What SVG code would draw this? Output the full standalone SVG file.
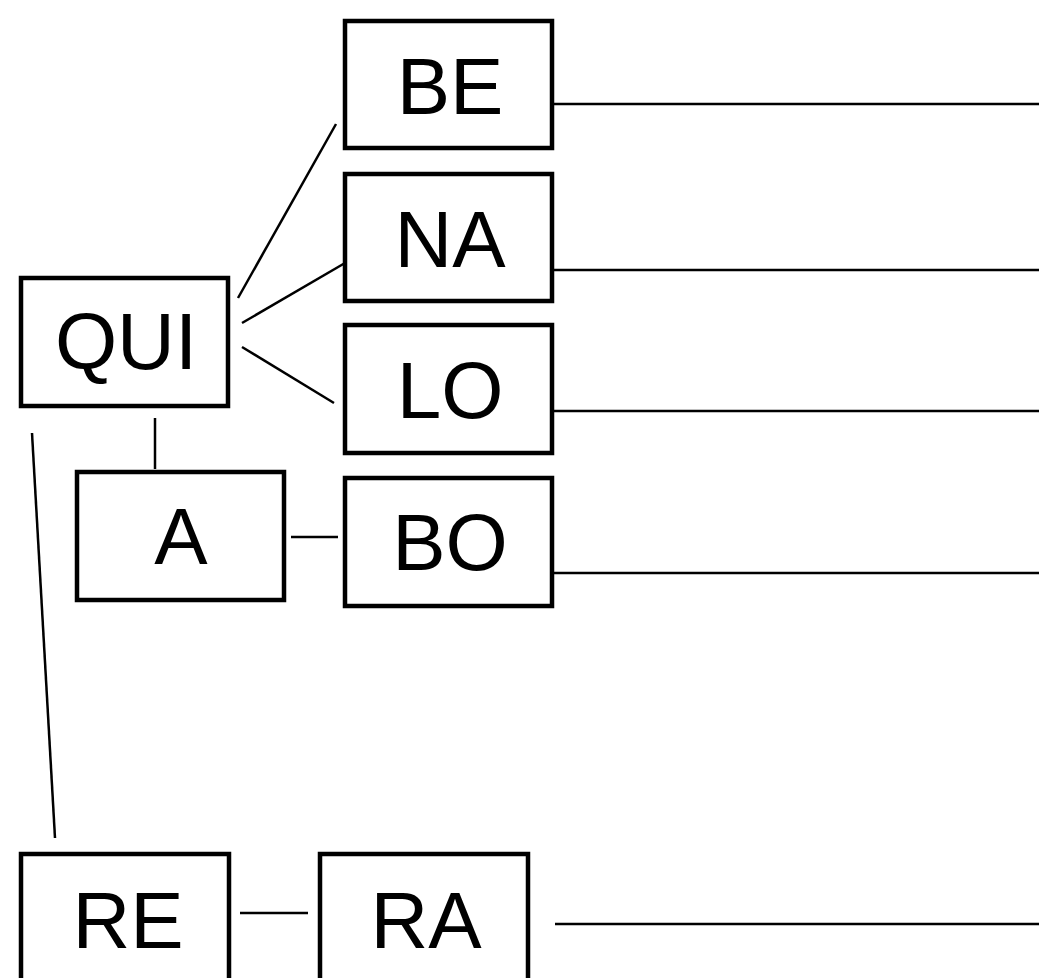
<svg xmlns="http://www.w3.org/2000/svg" width="1039" height="978" viewBox="0 0 1039 978">
<style>
.box{fill:#fff;stroke:#000;stroke-width:4.5}
.lbl{font-family:"Liberation Sans",Arial,sans-serif;font-size:80px;fill:#000;text-anchor:middle}
.con{stroke:#000;stroke-width:2.5;fill:none}
</style>
<rect width="1039" height="978" fill="#fff"/>
<g id="connectors">
<line class="con" x1="238" y1="298" x2="336" y2="124"/>
<line class="con" x1="242" y1="323" x2="345" y2="263"/>
<line class="con" x1="242" y1="347" x2="334" y2="403"/>
<line class="con" x1="155" y1="418" x2="155" y2="469"/>
<line class="con" x1="291" y1="537" x2="338" y2="537"/>
<line class="con" x1="32" y1="433" x2="55" y2="838"/>
<line class="con" x1="240" y1="913" x2="308" y2="913"/>
<line class="con" x1="554" y1="104" x2="1039" y2="104"/>
<line class="con" x1="554" y1="270" x2="1039" y2="270"/>
<line class="con" x1="554" y1="411" x2="1039" y2="411"/>
<line class="con" x1="554" y1="573" x2="1039" y2="573"/>
<line class="con" x1="555" y1="924" x2="1039" y2="924"/>
</g>
<g id="node-BE"><rect class="box" x="345" y="21" width="207" height="127"/><text class="lbl" x="450" y="114">BE</text></g>
<g id="node-NA"><rect class="box" x="345" y="174" width="207" height="127"/><text class="lbl" x="450" y="267">NA</text></g>
<g id="node-LO"><rect class="box" x="345" y="325" width="207" height="128"/><text class="lbl" x="450" y="418">LO</text></g>
<g id="node-BO"><rect class="box" x="345" y="478" width="207" height="128"/><text class="lbl" x="450" y="570">BO</text></g>
<g id="node-QUI"><rect class="box" x="21" y="278" width="207" height="128"/><text class="lbl" x="126" y="369">QUI</text></g>
<g id="node-A"><rect class="box" x="77" y="472" width="207" height="128"/><text class="lbl" x="181" y="564">A</text></g>
<g id="node-RE"><rect class="box" x="21" y="854" width="208" height="140"/><text class="lbl" x="128" y="948">RE</text></g>
<g id="node-RA"><rect class="box" x="320" y="854" width="208" height="140"/><text class="lbl" x="426" y="948">RA</text></g>
</svg>
